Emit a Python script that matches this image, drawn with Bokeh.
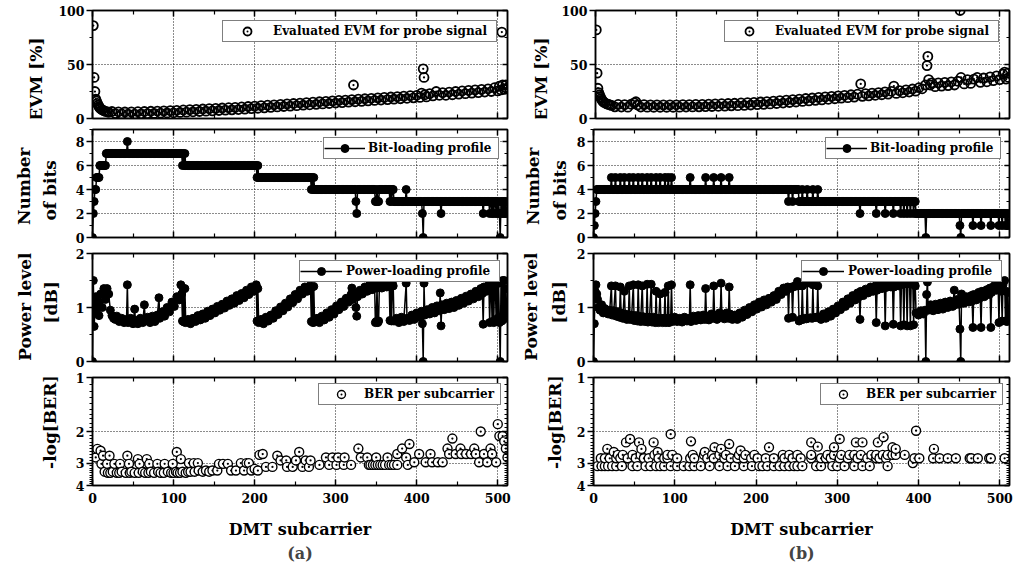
import math
import numpy as np
from bokeh.plotting import figure
from bokeh.layouts import row, column
from bokeh.core.properties import value
from bokeh.models import (Range1d, LinearAxis, LogAxis, FixedTicker, Legend, LegendItem,
                          Title, PrintfTickFormatter, CustomJSTickFormatter)
from bokeh.embed import file_html
from bokeh.resources import INLINE

FONT = "DejaVu Serif"

# ---------------- ticks ----------------
X_TICKS = [0, 100, 200, 300, 400, 500]
X_MINOR = [50, 150, 250, 350, 450]
X_GRID = [100, 200, 300, 400, 500]
EVM_TICKS = [0, 50, 100]
EVM_MINOR = [25, 75]
BIT_TICKS = [0, 2, 4, 6, 8]
BIT_MINOR = [1, 3, 5, 7, 9]
PWR_TICKS = [0, 1, 2]
PWR_MINOR = [0.5, 1.5]
BER_TICKS = [1, 2, 3, 4]
BER_MINOR = [1.1, 1.2, 1.3, 1.4, 1.5, 1.6, 1.7, 1.8, 1.9,
             2.1, 2.2, 2.3, 2.4, 2.5, 2.6, 2.7, 2.8, 2.9,
             3.1, 3.2, 3.3, 3.4, 3.5, 3.6, 3.7, 3.8, 3.9]

# ---------------- data (a) ----------------
EVM_A = [(1,86),(2,38),(3,25),(4,18),(5,16),(6,14),(7,12.5),(8,11),(9,10),(10,9),(12,8),(14,7.2),(16,6.6),
         (18,6.2),(20,5.8),(24,6.5),(28,4.6),(32,6.2),(36,4.2),(40,6.0),(44,4.0),(48,6.1),(52,4.1),(56,6.3),
         (60,4.3),(64,6.5),(68,4.5),(72,6.7),(76,4.7),(80,6.9),(84,4.9),(88,7.1),(92,5.1),(96,7.3),(100,5.3),
         (104,7.6),(108,5.6),(112,7.9),(116,5.9),(120,8.2),(124,6.2),(128,8.5),(132,6.5),(136,8.8),(140,6.8),
         (144,9.1),(148,7.1),(152,9.4),(156,7.4),(160,9.7),(164,7.7),(168,10.0),(172,8.0),(176,10.3),(180,8.3),
         (184,10.7),(188,8.7),(192,11.1),(196,9.1),(200,11.5),(204,9.5),(208,11.9),(212,9.9),(216,12.3),
         (220,10.3),(224,12.7),(228,10.7),(232,13.1),(236,11.1),(240,13.5),(244,11.5),(248,13.9),(252,11.9),
         (256,14.3),(260,12.3),(264,14.7),(268,12.7),(272,15.1),(276,13.1),(280,15.5),(284,13.5),(288,15.9),
         (292,13.9),(296,16.3),(300,14.3),(304,16.7),(308,14.7),(312,17.1),(316,15.1),(320,17.5),(322,31),
         (324,15.5),(328,17.9),(332,15.9),(336,18.3),(340,16.3),(344,18.7),(348,16.7),(352,19.1),(356,17.1),
         (360,19.5),(364,17.5),(368,19.9),(372,17.9),(376,20.3),(380,18.3),(384,20.7),(388,18.7),(392,21.1),
         (396,19.1),(400,21.5),(404,19.5),(406,23.5),(408,46),(409,38),(410,22),(412,20),(416,23),(420,21),
         (424,25),(428,21.5),(432,24),(436,21.5),(440,24.5),(444,22),(448,25),(452,22.5),(456,25.5),(460,23),
         (464,26),(468,23.5),(472,26.5),(476,24),(480,27),(484,24.5),(488,27.5),(492,25),(496,28.5),(500,25.5),
         (502,30),(504,26.5),(505,80),(506,31),(508,27),(510,31),(511,28)]

BITS_A = [(0,1),(2,1),(3,1),(4,2),(5,4),(6,8),(7,26),(8,1),(7,67),(6,1),(7,1),(6,1),(7,1),(6,88),(5,1),
          (6,1),(5,65),(4,1),(5,1),(4,1),(5,1),(4,51),(3,1),(2,1),(4,22),(3,2),(4,1),(3,2),(4,13),(3,1),
          (4,1),(3,1),(4,2),(3,15),(4,1),(3,19),(2,1),(0,1),(3,21),(2,1),(3,51),(2,1),(3,7),(2,1),(3,2),
          (2,1),(3,1),(2,1),(3,2),(2,1),(3,1),(2,1),(3,1),(2,1),(0,1),(3,1),(2,1),(3,1),(2,1),(3,1),(2,1),
          (3,1),(2,1)]

PWR_A = [(0,0.0),(1,1.5),(2,0.65),(3,0.95),(4,1.2),(5,0.9),(6,1.1),(8,0.85),(10,1.25),(12,1.0),(14,1.35),
         (16,1.15),(18,1.35),(20,1.25),(22,0.95),(24,0.85),(26,0.8),(28,0.78),(30,0.84),(33,0.74),(36,0.8),
         (39,0.72),(42,0.78),(43,1.42),(44,0.72),(47,0.8),(50,0.7),(52,0.97),(53,0.76),(56,0.7),(59,0.8),
         (62,0.72),(64,1.05),(65,0.75),(68,0.82),(71,0.72),(74,0.84),(77,0.74),(80,0.86),(82,1.18),(83,0.8),
         (86,0.92),(89,0.84),(92,1.0),(95,0.92),(98,1.1),(101,1.02),(104,1.2),(107,1.14),(109,1.42),(110,1.25),
         (111,0.75),(112,1.35),(113,0.73),(114,1.35),(115,0.72),(118,0.78),(121,0.7),(124,0.8),(127,0.74),
         (130,0.85),(133,0.77),(136,0.88),(139,0.8),(142,0.93),(145,0.85),(148,0.97),(151,0.9),(154,1.02),
         (157,0.95),(160,1.06),(163,0.99),(166,1.12),(169,1.04),(172,1.16),(175,1.08),(178,1.22),(181,1.13),
         (184,1.26),(187,1.18),(190,1.32),(193,1.24),(196,1.38),(199,1.3),(202,1.42),(203,0.75),(204,1.35),
         (205,0.72),(208,0.78),(211,0.7),(214,0.82),(217,0.75),(220,0.86),(223,0.8),(226,0.94),(229,0.87),
         (232,1.01),(235,0.94),(238,1.08),(241,1.01),(244,1.16),(247,1.09),(250,1.24),(253,1.16),(256,1.32),
         (259,1.25),(262,1.38),(265,1.3),(268,1.4),(269,1.35),(270,0.74),(271,1.38),(272,0.72),(273,1.39),
         (274,0.73),(277,0.8),(280,0.72),(283,0.84),(286,0.77),(289,0.9),(292,0.82),(295,0.96),(298,0.88),
         (301,1.03),(304,0.96),(307,1.1),(310,1.02),(313,1.17),(316,1.1),(319,1.24),(320,1.36),(321,1.15),
         (324,1.26),(325,1.0),(326,0.84),(327,1.2),(330,1.32),(333,1.25),(336,1.38),(339,1.3),(342,1.42),
         (345,1.33),(348,1.44),(349,0.72),(350,0.74),(351,1.36),(352,0.72),(353,0.75),(354,1.45),(357,1.36),
         (360,1.46),(363,1.38),(366,1.47),(367,0.76),(368,1.4),(369,0.75),(370,1.48),(371,1.4),(372,0.75),
         (375,0.8),(378,0.72),(381,0.82),(384,0.74),(387,1.45),(388,0.8),(391,0.76),(394,0.86),(397,0.78),
         (400,0.9),(403,0.82),(406,0.93),(407,0.7),(408,0.0),(409,1.45),(410,0.86),(413,0.96),(416,0.88),
         (419,1.0),(422,0.9),(425,1.03),(428,0.94),(429,1.27),(430,0.66),(431,1.05),(434,0.96),(437,1.08),
         (440,0.98),(443,1.1),(446,1.0),(449,1.13),(452,1.04),(455,1.17),(458,1.08),(461,1.21),(464,1.12),
         (467,1.25),(470,1.16),(473,1.3),(476,1.2),(479,1.35),(481,1.26),(482,0.69),(483,1.38),(486,1.3),
         (489,1.42),(490,0.72),(491,1.38),(492,1.4),(493,0.74),(494,1.42),(495,0.72),(496,1.43),(497,1.44),
         (498,0.75),(499,1.45),(500,0.8),(501,1.45),(502,0.72),(503,0.0),(504,1.48),(505,0.75),(506,1.5),
         (507,0.78),(508,1.5),(509,0.9),(510,1.35),(511,0.95)]

BER_A = [(4,2.79),(6,2.5),(10,2.56),(11,3.03),(13,2.73),(15,3.35),(18,3.03),(19,3.4),(21,2.73),(22,3.4),
         (25,3.35),(27,3.03),(30,3.4),(33,3.4),(34,3.03),(36,3.35),(41,3.4),(43,2.73),(45,3.03),(46,3.4),
         (48,3.35),(52,3.4),(56,2.85),(57,3.4),(58,3.03),(62,3.35),(65,3.4),(67,2.85),(69,3.4),(70,3.03),
         (72,3.35),(76,3.4),(80,3.03),(81,3.35),(84,3.4),(88,3.4),(89,3.03),(93,3.35),(97,3.4),(99,3.03),
         (100,3.4),(103,3.35),(104,2.6),(105,3.4),(108,3.4),(109,2.85),(111,3.35),(115,3.4),(118,3.35),
         (119,3.0),(121,3.35),(125,3.0),(126,3.35),(130,3.0),(131,3.3),(136,3.35),(140,3.3),(144,3.35),
         (148,3.3),(154,3.3),(156,3.03),(161,3.03),(167,3.03),(171,3.3),(177,3.3),(183,3.0),(187,3.3),
         (190,3.0),(193,3.0),(196,3.3),(200,3.23),(204,3.3),(206,2.7),(210,2.67),(214,3.15),(222,3.15),
         (228,2.73),(232,2.9),(239,2.9),(240,3.15),(247,3.15),(251,2.9),(255,2.6),(259,3.15),(263,2.9),
         (267,3.15),(269,2.9),(280,3.07),(288,2.79),(292,3.07),(296,2.79),(301,3.07),(303,2.79),(310,3.07),
         (311,2.79),(319,3.07),(328,2.49),(331,2.79),(339,2.79),(341,3.07),(343,3.07),(346,3.07),(349,3.07),
         (350,2.79),(352,3.07),(355,3.07),(358,3.07),(361,3.07),(364,2.79),(366,3.07),(369,3.07),(372,3.07),
         (376,3.07),(376,2.67),(382,2.49),(387,2.79),(389,3.07),(391,2.35),(397,2.97),(403,2.67),(411,2.97),
         (417,2.67),(419,2.97),(426,2.97),(432,2.97),(438,2.49),(440,2.67),(444,2.19),(448,2.67),(454,2.49),
         (455,2.67),(461,2.67),(467,2.67),(471,2.49),(473,2.67),(477,2.97),(479,2.0),(483,2.67),(487,2.97),
         (491,2.49),(493,2.67),(498,2.97),(500,1.82),(502,2.12),(506,2.12),(508,2.27),(510,2.49),(512,2.79)]

# ---------------- data (b) ----------------
EVM_B = [(1,82),(2,42),(3,28),(4,24),(5,22),(6,20),(7,18.5),(8,17),(9,16),(10,15.2),(12,14.3),(14,13.5),
         (16,13),(18,12.5),(20,12.2),(24,10.8),(28,13.0),(32,10.6),(36,12.9),(40,10.5),(44,13.2),(48,14.5),
         (50,15.5),(52,12.5),(56,10.6),(60,12.8),(64,10.5),(68,12.7),(72,10.4),(76,12.6),(80,10.4),(84,12.6),
         (88,10.4),(92,12.6),(96,10.4),(100,12.7),(104,10.5),(108,12.8),(112,10.6),(116,12.9),(120,10.7),
         (124,13.0),(128,10.8),(132,13.1),(136,10.9),(140,13.3),(144,11.1),(148,13.5),(152,11.3),(156,13.7),
         (160,11.5),(164,13.9),(168,11.7),(172,14.1),(176,11.9),(180,14.4),(184,12.2),(188,14.7),(192,12.5),
         (196,15.0),(200,12.8),(204,15.3),(208,13.1),(212,15.7),(216,13.5),(220,16.1),(224,13.9),(228,16.5),
         (232,14.3),(236,17.0),(240,14.8),(244,17.5),(248,15.3),(252,18.0),(256,15.8),(260,18.5),(264,16.3),
         (268,19.0),(272,16.8),(276,19.5),(280,17.3),(284,20.0),(288,17.8),(292,20.5),(296,18.3),(300,21.0),
         (304,18.8),(308,21.5),(312,19.3),(316,22.0),(320,19.8),(324,22.5),(328,32),(330,20.5),(334,23.0),
         (338,21.0),(342,23.5),(346,21.5),(350,24.0),(354,22.0),(358,24.6),(362,22.6),(366,25.2),(369,30),
         (372,23.2),(376,25.8),(380,23.8),(384,26.5),(388,24.5),(392,27.3),(396,25.3),(400,28.5),(404,27.5),
         (408,31),(410,49),(411,57.5),(412,36),(414,31),(416,33),(420,29.5),(424,33),(428,30),(432,33.5),
         (436,30.5),(440,34),(444,31),(448,34.5),(451,100),(452,38),(456,32),(460,36),(464,32.5),(468,36.5),
         (472,38),(476,33.5),(480,37.5),(484,34),(488,38.5),(492,35),(496,39.5),(500,36),(504,41),(506,43),
         (508,36.5),(510,42),(511,38)]

BITS_B = [(0,1),(1,1),(2,1),(3,1),(4,18),(5,1),(4,4),(5,1),(4,5),(5,1),(4,4),(5,1),(4,5),(5,1),(4,4),(5,1),
          (4,5),(5,1),(4,4),(5,1),(4,5),(5,1),(4,4),(5,1),(4,5),(5,1),(4,4),(5,1),(4,5),(5,1),(4,3),(5,1),
          (4,3),(5,1),(4,22),(5,1),(4,18),(5,1),(4,9),(5,1),(4,8),(5,1),(4,9),(5,1),(4,72),(3,1),(4,4),(3,1),
          (4,7),(3,4),(4,1),(3,5),(4,1),(3,6),(4,1),(3,5),(4,1),(3,51),(2,1),(3,19),(2,1),(3,10),(2,1),(3,9),
          (2,1),(3,8),(2,1),(3,3),(2,1),(3,3),(2,1),(3,3),(2,1),(3,3),(2,1),(3,2),(2,12),(0,1),(2,41),(1,1),
          (0,1),(2,14),(1,1),(2,9),(1,1),(2,11),(1,1),(2,9),(1,1),(2,3),(1,1),(2,3),(1,1),(2,1),(1,1),(2,1),
          (1,1)]

PWR_B = [(0,0.0),(1,0.7),(2,1.3),(3,1.42),(4,1.25),(5,1.15),(6,1.0),(8,0.95),(10,1.05),(12,0.9),(14,0.98),
         (16,0.92),(18,0.88),(20,0.95),(22,1.4),(23,0.86),(25,0.94),(27,1.4),(28,0.84),(30,0.92),(32,0.82),
         (33,1.38),(34,0.9),(36,0.8),(38,1.3),(39,0.88),(41,0.78),(43,0.86),(44,1.4),(45,0.78),(47,0.86),
         (49,1.42),(50,0.76),(52,0.85),(54,0.75),(55,1.42),(56,0.84),(58,0.74),(60,1.4),(61,0.83),(63,0.74),
         (65,0.82),(66,1.43),(67,0.73),(69,0.82),(71,1.43),(72,0.73),(74,0.82),(76,0.72),(77,1.3),(78,0.8),
         (80,0.72),(82,1.25),(83,0.8),(85,0.72),(87,0.8),(88,1.28),(89,0.72),(91,0.8),(92,1.4),(93,0.72),
         (95,0.8),(96,1.42),(97,0.74),(100,0.82),(103,0.74),(106,0.8),(109,0.73),(112,0.82),(115,0.75),
         (118,0.8),(119,1.42),(120,0.74),(123,0.84),(126,0.76),(129,0.85),(132,0.77),(135,0.86),(137,0.78),
         (138,1.35),(139,0.84),(142,0.77),(145,0.88),(147,0.8),(148,1.4),(149,0.86),(152,0.78),(155,0.9),
         (156,0.82),(157,1.45),(158,0.88),(161,0.79),(164,0.9),(166,0.8),(167,1.38),(168,0.88),(171,0.78),
         (174,0.86),(177,0.78),(180,0.9),(183,0.82),(186,0.95),(189,0.87),(192,1.0),(195,0.92),(198,1.05),
         (201,0.97),(204,1.1),(207,1.01),(210,1.14),(213,1.05),(216,1.17),(219,1.1),(222,1.22),(225,1.15),
         (228,1.3),(231,1.24),(234,1.36),(237,1.3),(239,1.38),(240,0.8),(241,1.35),(243,1.37),(244,1.38),
         (245,0.82),(246,1.38),(248,1.4),(250,1.4),(251,1.48),(252,1.4),(253,0.75),(255,0.78),(256,0.78),
         (257,1.4),(258,0.78),(260,0.8),(262,0.79),(263,1.45),(264,0.8),(267,0.81),(269,0.8),(270,1.42),
         (271,0.81),(274,0.82),(275,0.82),(276,1.4),(277,0.82),(280,0.78),(283,0.88),(286,0.8),(289,0.92),
         (292,0.84),(295,0.97),(298,0.9),(301,1.03),(304,0.96),(307,1.1),(310,1.02),(313,1.16),(316,1.08),
         (319,1.22),(322,1.14),(325,1.27),(327,1.2),(328,0.78),(329,1.3),(332,1.22),(335,1.34),(338,1.27),
         (341,1.38),(344,1.3),(347,1.4),(348,0.72),(349,1.32),(352,1.43),(355,1.35),(358,1.45),(359,0.66),
         (360,1.37),(363,1.46),(366,1.38),(368,1.45),(369,0.69),(370,1.38),(373,1.47),(376,1.4),(377,1.46),
         (378,0.66),(379,1.43),(381,1.44),(382,0.68),(383,1.44),(385,1.45),(386,0.66),(387,1.45),(389,1.44),
         (390,0.66),(391,1.45),(393,1.44),(394,0.68),(395,1.42),(396,1.4),(397,0.9),(400,0.86),(403,0.94),
         (406,0.88),(408,0.95),(409,0.0),(410,1.24),(411,1.47),(412,0.95),(415,1.05),(418,0.94),(421,1.06),
         (424,0.96),(427,1.08),(430,0.97),(433,1.1),(436,1.0),(439,1.12),(442,1.02),(444,1.32),(445,1.05),
         (448,1.15),(450,1.06),(451,0.6),(452,0.0),(453,1.25),(456,1.08),(459,1.2),(462,1.1),(465,1.22),
         (466,1.12),(467,0.63),(468,1.24),(471,1.14),(474,1.28),(476,1.18),(477,0.63),(478,1.3),(481,1.2),
         (484,1.33),(487,1.24),(488,1.36),(489,0.63),(490,1.28),(493,1.4),(496,1.32),(498,1.42),(499,0.72),
         (500,1.4),(502,1.3),(503,0.75),(504,1.42),(506,1.5),(507,0.75),(508,1.3),(509,0.74),(510,1.28),
         (511,0.76)]

BER_B = [(5,3.12),(9,2.82),(10,3.12),(14,3.12),(14,2.82),(17,2.5),(18,3.12),(20,2.82),(23,3.12),(25,2.6),
         (28,3.12),(28,2.82),(30,2.7),(33,2.82),(35,3.12),(36,2.7),(40,2.3),(42,2.82),(45,2.2),(48,3.12),
         (48,2.7),(52,2.82),(54,3.12),(56,2.3),(58,2.7),(59,2.5),(62,2.82),(64,3.12),(68,2.82),(70,3.12),
         (74,2.3),(75,2.7),(77,3.12),(79,2.6),(80,2.82),(82,3.12),(87,3.12),(87,2.82),(91,2.82),(91,2.7),
         (95,3.12),(95,2.07),(97,2.7),(103,3.12),(103,2.82),(111,3.12),(118,3.12),(119,2.82),(120,2.27),
         (122,2.7),(124,3.12),(124,2.82),(132,3.12),(136,2.7),(137,2.6),(140,2.82),(143,3.12),(146,2.7),
         (148,2.82),(149,2.45),(155,3.12),(155,2.7),(157,2.5),(161,2.82),(163,2.7),(165,3.12),(167,2.35),
         (169,2.82),(174,3.12),(177,2.82),(179,2.7),(181,2.55),(185,3.12),(185,2.82),(187,2.7),(194,2.82),
         (195,3.12),(198,2.7),(202,2.82),(204,3.12),(208,3.12),(212,2.82),(214,3.12),(216,2.45),(222,3.12),
         (222,2.82),(229,3.12),(233,2.7),(235,3.12),(235,2.82),(241,3.12),(241,2.7),(245,2.82),(247,3.12),
         (251,3.12),(251,2.7),(255,2.82),(257,3.12),(268,2.82),(268,2.7),(268,2.3),(274,3.12),(276,2.43),
         (280,3.12),(280,2.82),(286,2.82),(288,2.7),(292,2.82),(294,3.12),(296,2.7),(296,2.45),(300,3.12),
         (303,2.82),(303,2.2),(305,2.7),(309,3.12),(313,2.82),(315,2.7),(321,3.12),(321,2.7),(323,2.3),
         (325,2.82),(329,2.7),(331,3.12),(331,2.3),(337,2.82),(340,3.12),(342,2.7),(348,2.82),(348,2.7),
         (350,2.3),(352,2.82),(356,2.7),(357,2.15),(360,2.82),(362,3.12),(362,2.7),(368,2.7),(368,2.45),
         (372,2.7),(372,2.5),(383,2.7),(393,3.0),(395,2.82),(397,1.98),(401,2.82),(418,2.82),(419,2.5),
         (426,2.82),(436,2.82),(446,2.82),(463,2.82),(465,2.82),(473,2.82),(487,2.82),(489,2.82),(506,2.82)]

LABELS = {
    "evm": "Evaluated EVM for probe signal",
    "bits": "Bit-loading profile",
    "pwr": "Power-loading profile",
    "ber": "BER per subcarrier",
}
Y_TITLES = [["EVM [%]"], ["Number", "of bits"], ["Power level", "[dB]"], ["-log[BER]"]]

# ---------------- layout (pixels) ----------------
FRAME_H = 108
BORDERS = [(10, 8), (3, 8), (8, 8), (8, 84)]          # (top, bottom) of each panel
COL_W = [518, 495]                                     # width of each column
FRAME_L = [92, 75]                                     # frame left offset inside column
FRAME_R = [11, 4]
LAB_W = [[55, 64, 64, 64], [40, 55, 55, 55]]           # width of y-title strip per panel
LAB_X = [[[35], [23.5, 49], [24.5, 50], [49]],         # x centres of the y-title lines
         [[22], [14, 41], [12, 40], [36]]]
LAB_Y = [[46], [56.5, 52], [63, 68], [118]]            # y centres (from strip bottom)


def split(pairs):
    return [a for a, _ in pairs], [b for _, b in pairs]


def expand_runs(runs):
    vals = [v for v, n in runs for _ in range(n)]
    return list(range(len(vals))), vals


def blank():
    return CustomJSTickFormatter(code="return '';")


def style_axis(ax):
    ax.major_label_text_font = FONT
    ax.major_label_text_font_style = "bold"
    ax.major_label_text_font_size = "12.5px"
    ax.major_label_text_color = "black"
    ax.axis_label_text_font = FONT
    ax.axis_label_text_font_style = "bold"
    ax.axis_label_text_font_size = "16px"
    ax.axis_label_text_color = "black"
    ax.axis_line_color = "black"
    ax.axis_line_width = 1.5
    ax.major_tick_line_color = "black"
    ax.major_tick_line_width = 1.5
    ax.minor_tick_line_color = "black"
    ax.minor_tick_line_width = 1.2


def title_strip(width, height, texts, xs, ys):
    s = figure(width=width, height=height, x_range=Range1d(0, width), y_range=Range1d(0, height),
               output_backend="svg", toolbar_location=None, min_border=0, title=None,
               x_axis_location=None, y_axis_location=None)
    s.grid.visible = False
    s.outline_line_color = None
    s.background_fill_color = "white"
    s.border_fill_color = "white"
    s.text(x=xs, y=ys, text=texts, angle=math.pi / 2, text_align="center", text_baseline="middle",
           text_font=value(FONT), text_font_style="bold", text_font_size="17px", text_color="black")
    return s


def make_panel(width, bl, br, bt, bb, y_range, yticks, yminor, ygrid,
               log=False, xlabels=False, title=None):
    p = figure(width=width, height=bt + FRAME_H + bb, x_range=Range1d(0, 512), y_range=y_range,
               y_axis_type="log" if log else "linear", output_backend="svg",
               toolbar_location=None, min_border_left=bl, min_border_right=br,
               min_border_top=bt, min_border_bottom=bb)
    p.outline_line_color = "black"
    p.outline_line_width = 1.5
    p.background_fill_color = "white"
    p.border_fill_color = "white"

    xt = FixedTicker(ticks=X_TICKS, minor_ticks=X_MINOR)
    yt = FixedTicker(ticks=yticks, minor_ticks=yminor)

    xb = p.xaxis[0]
    style_axis(xb)
    xb.ticker = xt
    xb.major_tick_in, xb.major_tick_out = 6, 0
    xb.minor_tick_in, xb.minor_tick_out = 4, 0
    if xlabels:
        xb.major_label_standoff = 7
        xb.axis_label = "DMT subcarrier"
        xb.axis_label_standoff = 14
    else:
        xb.formatter = blank()
        xb.major_label_standoff = 0

    xa = LinearAxis(ticker=xt, formatter=blank(), major_label_standoff=0)
    style_axis(xa)
    xa.major_tick_in, xa.major_tick_out = 6, 0
    xa.minor_tick_in, xa.minor_tick_out = 4, 0
    p.add_layout(xa, "above")

    yl = p.yaxis[0]
    style_axis(yl)
    yl.ticker = yt
    if log:
        yl.formatter = PrintfTickFormatter(format="%d")
    yl.major_tick_out, yl.major_tick_in = 6, 0
    yl.minor_tick_out, yl.minor_tick_in = 3, 0
    yl.major_label_standoff = 2

    yr = (LogAxis if log else LinearAxis)(ticker=yt, formatter=blank(), major_label_standoff=0)
    style_axis(yr)
    yr.major_tick_in, yr.major_tick_out = 5, 0
    yr.minor_tick_in, yr.minor_tick_out = 3, 0
    p.add_layout(yr, "right")

    p.xgrid.ticker = FixedTicker(ticks=X_GRID)
    p.ygrid.ticker = FixedTicker(ticks=ygrid)
    for g in (p.xgrid, p.ygrid):
        g.grid_line_color = "black"
        g.grid_line_dash = "1 2"
        g.grid_line_width = 1
        g.grid_line_alpha = 0.9

    if title is not None:
        p.add_layout(Title(text=title, align="center", text_font=FONT, text_font_style="bold",
                           text_font_size="16px", standoff=1), "below")
    return p


def add_legend(p, label, rends, gw, so, lw, margin):
    lg = Legend(items=[LegendItem(label=label, renderers=rends)], location="top_right",
                border_line_color="black", border_line_width=1.2, background_fill_color="white",
                background_fill_alpha=1.0, padding=0, spacing=0, margin=margin,
                glyph_width=gw, glyph_height=20, label_height=20, label_width=lw,
                label_standoff=so, label_text_font=FONT, label_text_font_style="bold",
                label_text_font_size="12px", label_text_color="black")
    p.add_layout(lg)


def build_column(ci, evm, bits, pwr, ber, tag):
    rows = []
    specs = [
        (Range1d(0, 100), EVM_TICKS, EVM_MINOR, [50], False),
        (Range1d(0, 9), BIT_TICKS, BIT_MINOR, [2, 4, 6, 8], False),
        (Range1d(0, 2), PWR_TICKS, PWR_MINOR, [1], False),
        (Range1d(4, 1), BER_TICKS, BER_MINOR, [2, 3], True),
    ]
    for k, (yr, yt, ym, yg, is_log) in enumerate(specs):
        bt, bb = BORDERS[k]
        lw = LAB_W[ci][k]
        p = make_panel(COL_W[ci] - lw, FRAME_L[ci] - lw, FRAME_R[ci], bt, bb, yr, yt, ym, yg,
                       log=is_log, xlabels=(k == 3), title=(tag if k == 3 else None))
        if k == 0:
            x, y = split(evm)
            r = p.scatter(x, y, marker="circle_dot", size=9, line_color="black", line_width=1.8,
                          fill_color=None)
            add_legend(p, LABELS["evm"], [r], 48, 2, 223, 10)
        elif k == 1:
            x, y = expand_runs(bits)
            rl = p.line(x, y, line_color="black", line_width=1.5)
            rc = p.scatter(x, y, marker="circle", size=8, line_color="black", fill_color="black")
            add_legend(p, LABELS["bits"], [rl, rc], 41, 3, 130, 8)
        elif k == 2:
            x, y = split(pwr)
            rl = p.line(x, y, line_color="black", line_width=1.5)
            rc = p.scatter(x, y, marker="circle", size=8, line_color="black", fill_color="black")
            add_legend(p, LABELS["pwr"], [rl, rc], 42, 4, 153, 7)
        else:
            x, y = split(ber)
            r = p.scatter(x, y, marker="circle_dot", size=9, line_color="black", line_width=1.4,
                          fill_color="white")
            add_legend(p, LABELS["ber"], [r], 44, 1, 136, 6)
        strip = title_strip(lw, bt + FRAME_H + bb, Y_TITLES[k], LAB_X[ci][k], LAB_Y[k])
        rows.append(row(strip, p, spacing=0))
    return column(*rows, spacing=0)


col_a = build_column(0, EVM_A, BITS_A, PWR_A, BER_A, "(a)")
col_b = build_column(1, EVM_B, BITS_B, PWR_B, BER_B, "(b)")
layout = row(col_a, col_b, spacing=0)

open("out.html", "w").write(file_html(layout, INLINE))
